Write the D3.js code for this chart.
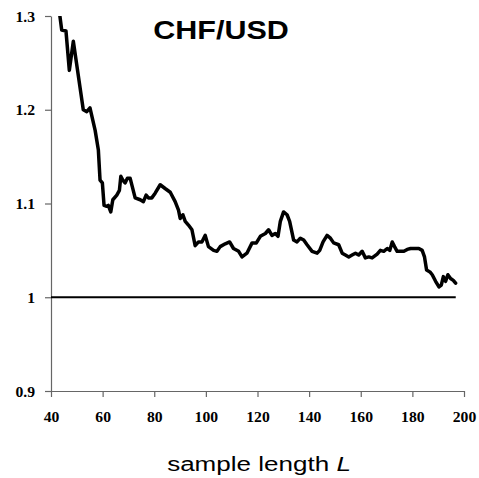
<!DOCTYPE html>
<html>
<head>
<meta charset="utf-8">
<script src="https://cdn.jsdelivr.net/npm/d3@7"></script>
<style>
  html, body { margin: 0; padding: 0; background: #fff; }
  svg { display: block; }
</style>
</head>
<body>
<svg id="chart" width="479" height="478"></svg>
<script>
// ---- data ----
const title = "CHF/USD";
const xLabel = "sample length ";
const xLabelItalic = "L";
const xTicks = [40, 60, 80, 100, 120, 140, 160, 180, 200];
const yTicks = [0.9, 1.0, 1.1, 1.2, 1.3];
const yTickLabels = ["0.9", "1", "1.1", "1.2", "1.3"];
const referenceLevel = 1.0;
const referenceRange = [40, 196.8];
const sampleLength = [
  42.5, 44.15, 45.8, 47.1, 48.65, 52.5, 53.85, 55.1, 57.1, 58.35,
  59.0, 59.9, 60.55, 61.6, 62.2, 63.15, 63.95, 65.5, 66.5, 67.05,
  67.8, 68.7, 69.6, 70.65, 72.6, 74.55, 75.8, 76.85, 77.75, 79.05,
  80.35, 82.3, 84.2, 86.2, 88.1, 89.4, 90.05, 91.1, 92.0, 93.25,
  94.6, 95.85, 97.15, 98.45, 99.75, 101.0, 103.0, 104.3, 105.55, 107.5,
  109.2, 110.7, 112.7, 114.0, 115.9, 117.9, 119.55, 121.1, 123.05, 124.3,
  125.6, 126.9, 127.95, 128.85, 130.1, 131.45, 132.45, 134.0, 135.3, 136.6,
  137.9, 139.2, 141.15, 143.1, 144.1, 145.4, 146.95, 148.25, 149.5, 151.45,
  152.8, 154.05, 155.35, 156.65, 157.95, 159.2, 160.55, 161.8, 163.1, 164.4,
  166.35, 167.6, 168.9, 170.25, 171.25, 172.2, 173.1, 174.1, 175.4, 176.7,
  178.0, 179.3, 182.5, 183.8, 184.7, 185.5, 186.8, 187.7, 189.0, 190.3,
  191.2, 192.0, 192.85, 193.75, 194.8, 195.85, 196.75
];
const ratio = [
  1.320, 1.285, 1.284, 1.242, 1.273, 1.200, 1.198, 1.202, 1.178, 1.157,
  1.125, 1.122, 1.098, 1.097, 1.098, 1.091, 1.104, 1.109, 1.114, 1.129,
  1.125, 1.122, 1.127, 1.127, 1.106, 1.104, 1.102, 1.109, 1.106, 1.106,
  1.111, 1.120, 1.116, 1.112, 1.102, 1.093, 1.084, 1.088, 1.081, 1.077,
  1.072, 1.055, 1.059, 1.059, 1.066, 1.054, 1.050, 1.049, 1.054, 1.057,
  1.059, 1.052, 1.049, 1.043, 1.047, 1.058, 1.058, 1.065, 1.068, 1.072,
  1.066, 1.068, 1.065, 1.081, 1.091, 1.088, 1.081, 1.061, 1.059, 1.063,
  1.061, 1.056, 1.049, 1.047, 1.050, 1.059, 1.066, 1.063, 1.058, 1.056,
  1.047, 1.045, 1.043, 1.045, 1.047, 1.045, 1.049, 1.042, 1.043, 1.042,
  1.046, 1.050, 1.049, 1.052, 1.050, 1.059, 1.054, 1.049, 1.049, 1.049,
  1.051, 1.052, 1.052, 1.050, 1.043, 1.029, 1.027, 1.024, 1.017, 1.011,
  1.013, 1.022, 1.017, 1.024, 1.020, 1.018, 1.015
];

// ---- layout ----
const svg = d3.select("#chart");
const plot = { left: 51, right: 464, top: 16, bottom: 391 };

const x = d3.scaleLinear().domain([40, 200]).range([plot.left, plot.right]);
const y = d3.scaleLinear().domain([0.9, 1.3]).range([plot.bottom, plot.top]);

svg.append("defs").append("clipPath").attr("id", "plotClip")
  .append("rect")
  .attr("x", plot.left).attr("y", plot.top)
  .attr("width", plot.right - plot.left).attr("height", plot.bottom - plot.top);

// axes
const axisColor = "#666";
const tickFont = "'Liberation Serif', 'Times New Roman', serif";

const yAxis = svg.append("g")
  .attr("transform", `translate(${plot.left},0)`)
  .call(d3.axisLeft(y).tickValues(yTicks).tickSize(6).tickSizeOuter(0)
    .tickFormat((d, i) => yTickLabels[i]));
yAxis.select(".domain").attr("stroke", axisColor).attr("stroke-width", 1.2);
yAxis.selectAll(".tick line").attr("stroke", axisColor).attr("stroke-width", 1.2);
yAxis.selectAll(".tick text")
  .attr("x", null).attr("dy", null)
  .attr("font-family", tickFont).attr("font-weight", "bold").attr("font-size", 14)
  .attr("fill", "#000")
  .attr("text-anchor", "end")
  .attr("transform", "translate(-16,5) scale(1.12,1)");

const xAxis = svg.append("g")
  .attr("transform", `translate(0,${plot.bottom})`)
  .call(d3.axisBottom(x).tickValues(xTicks).tickSize(6).tickSizeOuter(0));
xAxis.select(".domain").attr("stroke", axisColor).attr("stroke-width", 1.2);
xAxis.selectAll(".tick line").attr("stroke", axisColor).attr("stroke-width", 1.2);
xAxis.selectAll(".tick text")
  .attr("y", null).attr("dy", null)
  .attr("font-family", tickFont).attr("font-weight", "bold").attr("font-size", 14)
  .attr("fill", "#000")
  .attr("text-anchor", "middle")
  .attr("transform", "translate(0,31) scale(1.12,1)");

// reference line at 1
svg.append("line")
  .attr("x1", x(referenceRange[0])).attr("x2", x(referenceRange[1]))
  .attr("y1", y(referenceLevel)).attr("y2", y(referenceLevel))
  .attr("stroke", "#000").attr("stroke-width", 2);

// data line
const pts = sampleLength.map((L, i) => [L, ratio[i]]);
svg.append("path")
  .datum(pts)
  .attr("clip-path", "url(#plotClip)")
  .attr("fill", "none")
  .attr("stroke", "#000")
  .attr("stroke-width", 3.5)
  .attr("stroke-linejoin", "round")
  .attr("stroke-linecap", "round")
  .attr("d", d3.line().x(d => x(d[0])).y(d => y(d[1])));

// title
svg.append("text")
  .attr("transform", "translate(221,39) scale(1.22,1)")
  .attr("text-anchor", "middle")
  .attr("font-family", "'Liberation Sans', Arial, sans-serif")
  .attr("font-weight", "bold")
  .attr("font-size", 25)
  .attr("fill", "#000")
  .text(title);

// x-axis label
const xl = svg.append("text")
  .attr("transform", "translate(259,471) scale(1.24,1)")
  .attr("text-anchor", "middle")
  .attr("font-family", "'Liberation Sans', Arial, sans-serif")
  .attr("font-size", 21)
  .attr("fill", "#000");
xl.append("tspan").text(xLabel);
xl.append("tspan").attr("font-style", "italic").text(xLabelItalic);
</script>
</body>
</html>
